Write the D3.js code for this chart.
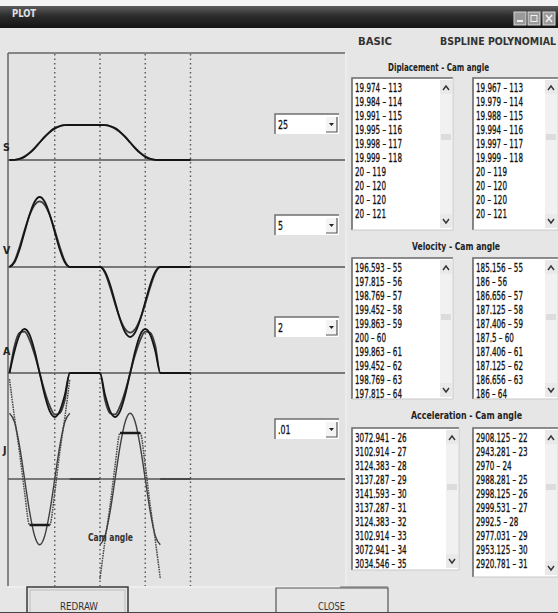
<!DOCTYPE html>
<html>
<head>
<meta charset="utf-8">
<script src="https://cdn.jsdelivr.net/npm/d3@7/dist/d3.min.js"></script>
<style>
body{margin:0;background:#e6e6e6}
svg{display:block}
</style>
</head>
<body>
<div id="win"></div>
<script>
// cam angle, degrees (10 deg steps)
var camAngle = [0,10,20,30,40,50,60,70,80,90,100,110,120,130,140,150,160,170,180,
                190,200,210,220,230,240,250,260,270,280,290,300,310,320,330,340,350,360];

// displacement (mm)
var dispBasic   = [0,0.1,0.6,1.8,3.9,6.7,10,13.3,16.1,18.2,19.4,19.9,20, 20,20,20,20,20,20,
                   19.9,19.4,18.2,16.1,13.3,10,6.7,3.9,1.8,0.6,0.1,0, 0,0,0,0,0,0];
var dispBspline = [0,0.1,0.7,2.1,4.2,6.9,10,13.1,15.8,17.9,19.3,19.9,20, 20,20,20,20,20,20,
                   19.9,19.3,17.9,15.8,13.1,10,6.9,4.2,2.1,0.7,0.1,0, 0,0,0,0,0,0];
// velocity
var velBasic   = [0,13.4,50,100,150,186.6,200,186.6,150,100,50,13.4,0, 0,0,0,0,0,0,
                  -13.4,-50,-100,-150,-186.6,-200,-186.6,-150,-100,-50,-13.4,0, 0,0,0,0,0,0];
var velBspline = [0,17.5,57.9,105.5,148.1,177.1,187.5,177.1,148.1,105.5,57.9,17.5,0, 0,0,0,0,0,0,
                  -17.5,-57.9,-105.5,-148.1,-177.1,-187.5,-177.1,-148.1,-105.5,-57.9,-17.5,0, 0,0,0,0,0,0];
// acceleration
var accBasic   = [0,1571,2721,3142,2721,1571,0,-1571,-2721,-3142,-2721,-1571,0, 0,0,0,0,0,0,
                  -1571,-2721,-3142,-2721,-1571,0,1571,2721,3142,2721,1571,0, 0,0,0,0,0,0];
var accBspline = [0,1950,2870,2960,2350,1300,0,-1300,-2350,-2960,-2870,-1950,0, 0,0,0,0,0,0,
                  -1950,-2870,-2960,-2350,-1300,0,1300,2350,2960,2870,1950,0, 0,0,0,0,0,0];

// jerk has jumps, so its angles repeat at the breaks (null = pen up)
var jerkAngle = [0,10,20,30,40,50,60,70,80,90,100,110,120, 120, 120,130,140,150,160,170,180, 180,
                 180,190,200,210,220,230,240,250,260,270,280,290,300, 300, 300,310,320,330,340,350,360];
var jerkBasic = [98700,85500,49300,0,-49300,-85500,-98700,-85500,-49300,0,49300,85500,98700, null,
                 0,0,0,0,0,0,0, null,
                 -98700,-85500,-49300,0,49300,85500,98700,85500,49300,0,-49300,-85500,-98700, null,
                 0,0,0,0,0,0,0];
var jerkBspline = [150000,92000,40000,-20000,-69000,-69000,-69000,-69000,-69000,-20000,40000,92000,150000, null,
                   0,0,0,0,0,0,0, null,
                   -150000,-92000,-40000,20000,69000,69000,69000,69000,69000,20000,-40000,-92000,-150000, null,
                   0,0,0,0,0,0,0];

var gridAngles = [90,180,270,360];
var gains = ["25","5","2",".01"];

var dispListBasic = ["19.974 \u2013 113","19.984 \u2013 114","19.991 \u2013 115","19.995 \u2013 116","19.998 \u2013 117",
                     "19.999 \u2013 118","20 \u2013 119","20 \u2013 120","20 \u2013 120","20 \u2013 121"];
var dispListBspline = ["19.967 \u2013 113","19.979 \u2013 114","19.988 \u2013 115","19.994 \u2013 116","19.997 \u2013 117",
                       "19.999 \u2013 118","20 \u2013 119","20 \u2013 120","20 \u2013 120","20 \u2013 121"];
var velListBasic = ["196.593 \u2013 55","197.815 \u2013 56","198.769 \u2013 57","199.452 \u2013 58","199.863 \u2013 59",
                    "200 \u2013 60","199.863 \u2013 61","199.452 \u2013 62","198.769 \u2013 63","197.815 \u2013 64"];
var velListBspline = ["185.156 \u2013 55","186 \u2013 56","186.656 \u2013 57","187.125 \u2013 58","187.406 \u2013 59",
                      "187.5 \u2013 60","187.406 \u2013 61","187.125 \u2013 62","186.656 \u2013 63","186 \u2013 64"];
var accListBasic = ["3072.941 \u2013 26","3102.914 \u2013 27","3124.383 \u2013 28","3137.287 \u2013 29","3141.593 \u2013 30",
                    "3137.287 \u2013 31","3124.383 \u2013 32","3102.914 \u2013 33","3072.941 \u2013 34","3034.546 \u2013 35"];
var accListBspline = ["2908.125 \u2013 22","2943.281 \u2013 23","2970 \u2013 24","2988.281 \u2013 25","2998.125 \u2013 26",
                      "2999.531 \u2013 27","2992.5 \u2013 28","2977.031 \u2013 29","2953.125 \u2013 30","2920.781 \u2013 31"];


var W = 558, H = 613;
var narrow = "'DejaVu Sans Condensed','Liberation Sans Narrow',sans-serif";
var itemSize = 11.8;

var svg = d3.select("#win").append("svg")
    .attr("width", W)
    .attr("height", H)
    .style("font-family", narrow);

// squeeze a text horizontally (the old dialog font is very narrow)
var probe = svg.append("text").attr("font-size",itemSize).text("19.974 \u2013 113");
var squeeze = 47 / probe.node().getComputedTextLength();
probe.remove();

function narrowText(g, tx, ty, size, txt){
    return g.append("text")
        .attr("transform","translate("+tx+","+ty+") scale("+squeeze+",1)")
        .attr("font-size",size).attr("fill","#111")
        .attr("stroke","#111").attr("stroke-width",0.3)
        .text(txt);
}

// ---- title bar
var defs = svg.append("defs");
var grad = defs.append("linearGradient").attr("id","tbar").attr("x1",0).attr("y1",0).attr("x2",0).attr("y2",1);
grad.append("stop").attr("offset","0%").attr("stop-color","#5c5c5c");
grad.append("stop").attr("offset","45%").attr("stop-color","#2c2c2c");
grad.append("stop").attr("offset","100%").attr("stop-color","#141414");

svg.append("rect").attr("x",0).attr("y",0).attr("width",W).attr("height",6).attr("fill","#f4f4f4");
svg.append("rect").attr("x",0).attr("y",6).attr("width",W).attr("height",22).attr("fill","url(#tbar)");
svg.append("text").attr("x",12).attr("y",17)
    .attr("fill","#e0e0e0").attr("font-size",11).attr("font-weight","bold")
    .attr("textLength",24).attr("lengthAdjust","spacingAndGlyphs")
    .text("PLOT");

var btnX = [514, 528, 543];
btnX.forEach(function(x, i){
    svg.append("rect").attr("x",x).attr("y",12).attr("width",12).attr("height",13)
        .attr("fill","#9a9a9a").attr("stroke","#d8d8d8").attr("stroke-width",1);
    if(i == 0) svg.append("rect").attr("x",x+3).attr("y",20).attr("width",6).attr("height",2).attr("fill","#f0f0f0");
    if(i == 1) svg.append("rect").attr("x",x+3).attr("y",15.5).attr("width",6).attr("height",6).attr("fill","none").attr("stroke","#f0f0f0");
    if(i == 2) svg.append("path").attr("d","M"+(x+3)+",15 L"+(x+9)+",22 M"+(x+9)+",15 L"+(x+3)+",22").attr("stroke","#f0f0f0").attr("stroke-width",1.6);
});

// ---- plot panel
var panel = {left: 8, top: 53, right: 345, bottom: 586};

svg.append("rect").attr("x",panel.left).attr("y",panel.top)
    .attr("width",panel.right-panel.left).attr("height",panel.bottom-panel.top)
    .attr("fill","#e3e3e3");
svg.append("line").attr("x1",panel.left).attr("x2",panel.right).attr("y1",panel.top).attr("y2",panel.top)
    .attr("stroke","#666").attr("stroke-width",1.5);
svg.append("line").attr("x1",panel.left).attr("x2",panel.left).attr("y1",panel.top).attr("y2",panel.bottom)
    .attr("stroke","#666").attr("stroke-width",1.5);
svg.append("line").attr("x1",panel.right+1).attr("x2",panel.right+1).attr("y1",panel.top).attr("y2",panel.bottom)
    .attr("stroke","#f2f2f2").attr("stroke-width",1);

var x = d3.scaleLinear().domain([0,360]).range([9.5,190.5]);

// dotted angle markers
svg.selectAll(".grid").data(gridAngles).enter().append("line")
    .attr("class","grid")
    .attr("x1",function(d){return x(d)}).attr("x2",function(d){return x(d)})
    .attr("y1",panel.top+1).attr("y2",panel.bottom)
    .attr("stroke","#555").attr("stroke-width",1.4)
    .attr("stroke-dasharray","1.4,3.1");

// the 4 sub plots
var plots = [
    {label:"S", lx:3, ly:151, base:160, amp:35,  max:20,     basic:dispBasic, bs:dispBspline, ang:camAngle},
    {label:"V", lx:3, ly:254, base:267, amp:70,  max:200,    basic:velBasic,  bs:velBspline,  ang:camAngle},
    {label:"A", lx:3, ly:355, base:373, amp:44,  max:3142,   basic:accBasic,  bs:accBspline,  ang:camAngle},
    {label:"J", lx:3, ly:454, base:479, amp:100, max:150000, basic:jerkBasic, bs:jerkBspline, ang:jerkAngle}
];

plots.forEach(function(p, i){
    var y = d3.scaleLinear().domain([-p.max, p.max]).range([p.base+p.amp, p.base-p.amp]);

    svg.append("line").attr("x1",panel.left).attr("x2",panel.right)
        .attr("y1",p.base).attr("y2",p.base)
        .attr("stroke","#555").attr("stroke-width",1.6);

    var line = d3.line()
        .defined(function(d){return d[1] != null})
        .x(function(d){return x(d[0])})
        .y(function(d){return y(d[1])})
        .curve(d3.curveMonotoneX);

    var bsPts = p.ang.map(function(a, k){return [a, p.bs[k]]});
    var basicPts = p.ang.map(function(a, k){return [a, p.basic[k]]});

    var isJ = p.label == "J";
    var bsPath = svg.append("path").attr("d", line(bsPts))
        .attr("fill","none").attr("stroke", isJ ? "#4a4a4a" : "#3c3c3c")
        .attr("stroke-width", isJ ? 1.5 : 1.7);
    if(isJ) bsPath.attr("stroke-dasharray","1.6,0.9");

    svg.append("path").attr("d", line(basicPts))
        .attr("fill","none").attr("stroke", isJ ? "#404040" : "#151515")
        .attr("stroke-width", isJ ? 1.4 : 1.8);

    // bspline jerk plateaus show up as solid bars
    if(isJ){
        var plateau = bsPts.map(function(d, k){
            var prev = bsPts[k-1], next = bsPts[k+1];
            var flat = d[1] != null && d[1] != 0 &&
                ((prev && prev[1] == d[1]) || (next && next[1] == d[1]));
            return [d[0], flat ? d[1] : null];
        });
        svg.append("path").attr("d", d3.line()
                .defined(function(d){return d[1] != null})
                .x(function(d){return x(d[0])})
                .y(function(d){return y(d[1])})(plateau))
            .attr("fill","none").attr("stroke","#1a1a1a").attr("stroke-width",2.4);
    }

    svg.append("text").attr("x",p.lx).attr("y",p.ly)
        .attr("font-size",10.5).attr("font-weight","bold").attr("fill","#222")
        .text(p.label);
});

svg.append("text").attr("x",88).attr("y",541)
    .attr("font-size",10.5).attr("font-weight","bold").attr("fill","#333")
    .attr("textLength",45).attr("lengthAdjust","spacingAndGlyphs")
    .text("Cam angle");

// ---- gain combo boxes
var comboTop = [114, 215, 317, 419];
gains.forEach(function(g, i){
    var cx = 275, cy = comboTop[i];
    svg.append("rect").attr("x",cx).attr("y",cy).attr("width",64).attr("height",20).attr("fill","#fff");
    svg.append("path").attr("d","M"+cx+","+(cy+20)+" V"+cy+" H"+(cx+64))
        .attr("fill","none").attr("stroke","#707070").attr("stroke-width",1.5);
    svg.append("rect").attr("x",cx+51).attr("y",cy+3).attr("width",11).attr("height",15).attr("fill","#f4f4f4");
    svg.append("path").attr("d","M"+(cx+51)+","+(cy+18)+" H"+(cx+62)+" V"+(cy+3))
        .attr("fill","none").attr("stroke","#555").attr("stroke-width",1.2);
    svg.append("path").attr("d","M"+(cx+54)+","+(cy+9)+" h5 l-2.5,3 z").attr("fill","#222");
    narrowText(svg, cx+3, cy+15, 13, g);
});

// ---- right side: column heads + list boxes
svg.append("text").attr("x",358).attr("y",45).attr("font-size",10.5).attr("font-weight","bold")
    .attr("textLength",34).attr("lengthAdjust","spacingAndGlyphs")
    .attr("fill","#333").text("BASIC");
svg.append("text").attr("x",440).attr("y",45).attr("font-size",10.5).attr("font-weight","bold")
    .attr("textLength",116).attr("lengthAdjust","spacingAndGlyphs")
    .attr("fill","#333").text("BSPLINE POLYNOMIAL");

function listBox(bx, by, bw, bh, items){
    var g = svg.append("g");
    g.append("rect").attr("x",bx).attr("y",by).attr("width",bw).attr("height",bh).attr("fill","#fff");
    g.append("path").attr("d","M"+bx+","+(by+bh)+" V"+by+" H"+(bx+bw))
        .attr("fill","none").attr("stroke","#6a6a6a").attr("stroke-width",1.6);
    g.append("path").attr("d","M"+bx+","+(by+bh)+" H"+(bx+bw)+" V"+by)
        .attr("fill","none").attr("stroke","#c8c8c8").attr("stroke-width",1);
    // scroll bar
    var sx = bx+bw-13;
    g.append("rect").attr("x",sx).attr("y",by+2).attr("width",12).attr("height",bh-4).attr("fill","#f1f1f1");
    g.append("rect").attr("x",sx).attr("y",by+2).attr("width",12).attr("height",14).attr("fill","#e9e9e9");
    g.append("rect").attr("x",sx).attr("y",by+bh-16).attr("width",12).attr("height",14).attr("fill","#e9e9e9");
    g.append("rect").attr("x",sx+1).attr("y",by+56).attr("width",10).attr("height",6).attr("fill","#dcdcdc");
    g.append("path").attr("d","M"+(sx+3)+","+(by+12)+" l3,-4 l3,4").attr("fill","none").attr("stroke","#333").attr("stroke-width",1.4);
    g.append("path").attr("d","M"+(sx+3)+","+(by+bh-11)+" l3,4 l3,-4").attr("fill","none").attr("stroke","#333").attr("stroke-width",1.4);

    items.forEach(function(d, i){
        narrowText(g, bx+3, by+13.5+i*14, itemSize, d);
    });
}

function header(hx, hy, len, txt){
    svg.append("text").attr("x",hx).attr("y",hy).attr("font-size",10.5).attr("font-weight","bold")
        .attr("textLength",len).attr("lengthAdjust","spacingAndGlyphs")
        .attr("fill","#222").text(txt);
}

header(388, 71, 101, "Diplacement - Cam angle");
listBox(352, 78, 101, 152, dispListBasic);
listBox(473, 78, 85, 152, dispListBspline);

header(412, 250, 88, "Velocity - Cam angle");
listBox(352, 258, 101, 141, velListBasic);
listBox(473, 258, 85, 141, velListBspline);

header(411, 419, 111, "Acceleration - Cam angle");
listBox(352, 428, 107, 142, accListBasic);
listBox(473, 428, 85, 149, accListBspline);

// ---- bottom buttons
svg.append("line").attr("x1",panel.left).attr("x2",panel.right).attr("y1",587).attr("y2",587)
    .attr("stroke","#f6f6f6").attr("stroke-width",1);
svg.append("rect").attr("x",27).attr("y",587).attr("width",101).attr("height",30)
    .attr("fill","#e4e4e4").attr("stroke","#3a3a3a").attr("stroke-width",1.5);
svg.append("rect").attr("x",30).attr("y",590).attr("width",95).attr("height",26)
    .attr("fill","none").attr("stroke","#bdbdbd").attr("stroke-width",1);
svg.append("text").attr("x",60).attr("y",610)
    .attr("font-size",10).attr("fill","#333")
    .attr("textLength",38).attr("lengthAdjust","spacingAndGlyphs")
    .text("REDRAW");

svg.append("path").attr("d","M276,613 V588 H388 V613")
    .attr("fill","none").attr("stroke","#555").attr("stroke-width",1.2);
svg.append("path").attr("d","M340,587 H388").attr("stroke","#666").attr("stroke-width",1);
svg.append("text").attr("x",318).attr("y",610)
    .attr("font-size",10).attr("fill","#333")
    .attr("textLength",27).attr("lengthAdjust","spacingAndGlyphs")
    .text("CLOSE");

svg.append("line").attr("x1",0).attr("x2",W).attr("y1",612.5).attr("y2",612.5)
    .attr("stroke","#444").attr("stroke-width",1.2);
</script>
</body>
</html>
